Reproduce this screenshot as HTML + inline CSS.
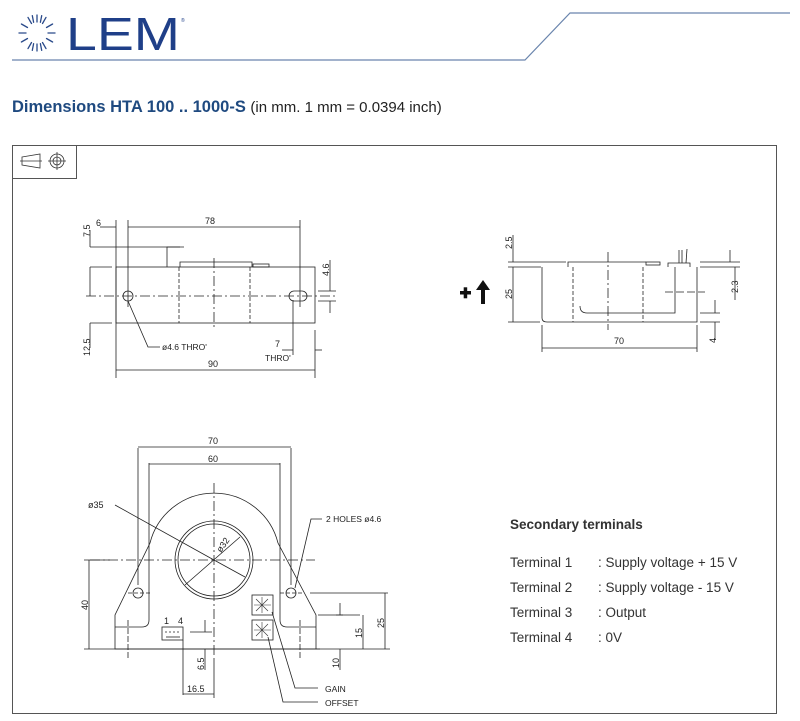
<!DOCTYPE html>
<html><head><meta charset="utf-8"><style>
html,body{margin:0;padding:0;background:#fff;}
body{width:800px;height:721px;overflow:hidden;position:relative;font-family:"Liberation Sans",sans-serif;}
svg{position:absolute;left:0;top:0;}
</style></head><body>
<svg width="800" height="721" viewBox="0 0 800 721" xmlns="http://www.w3.org/2000/svg">
<g stroke="#2a4a8a" stroke-width="1.3" stroke-linecap="round">
<line x1="37" y1="15" x2="37" y2="22"/><line x1="37" y1="44" x2="37" y2="51"/>
<line x1="19" y1="33" x2="26" y2="33"/><line x1="48" y1="33" x2="55" y2="33"/>
<line x1="28" y1="17.4" x2="31.5" y2="23.5"/><line x1="46" y1="17.4" x2="42.5" y2="23.5"/>
<line x1="28" y1="48.6" x2="31.5" y2="42.5"/><line x1="46" y1="48.6" x2="42.5" y2="42.5"/>
<line x1="21.4" y1="24" x2="27.5" y2="27.5"/><line x1="52.6" y1="24" x2="46.5" y2="27.5"/>
<line x1="21.4" y1="42" x2="27.5" y2="38.5"/><line x1="52.6" y1="42" x2="46.5" y2="38.5"/>
<line x1="32.3" y1="15.6" x2="33.6" y2="22.3"/><line x1="41.7" y1="15.6" x2="40.4" y2="22.3"/>
<line x1="32.3" y1="50.4" x2="33.6" y2="43.7"/><line x1="41.7" y1="50.4" x2="40.4" y2="43.7"/>
</g>
<text x="66" y="50" font-size="46" fill="#1f3f88" font-family="Liberation Sans" textLength="114" lengthAdjust="spacingAndGlyphs">LEM</text>
<text x="181" y="22" font-size="5" fill="#1f3f88">®</text>
<polyline points="12,60 525,60 570,13 790,13" fill="none" stroke="#6a85ad" stroke-width="1.2"/>
<text x="12" y="112" font-size="16.5" font-weight="bold" fill="#1f4a80">Dimensions HTA 100 .. 1000-S <tspan font-weight="normal" fill="#222" font-size="15">(in mm. 1 mm = 0.0394 inch)</tspan></text>
<rect x="12.5" y="145.5" width="764" height="568" fill="none" stroke="#555" stroke-width="1"/>
<rect x="12.5" y="145.5" width="64" height="33" fill="none" stroke="#555" stroke-width="1"/>
<g stroke="#333" fill="none" stroke-width="0.8">
<polygon points="22,157 40,154 40,168 22,165"/><line x1="20" y1="161" x2="42" y2="161"/>
<circle cx="57" cy="161" r="7"/><circle cx="57" cy="161" r="4"/><line x1="48" y1="161" x2="66" y2="161"/><line x1="57" y1="152" x2="57" y2="170"/>
</g>
<g fill="none" stroke="#222" stroke-width="0.8" font-family="Liberation Sans" font-size="9">
<rect x="116" y="267" width="199" height="56"/>
<polyline points="167,267 167,247 180,247"/>
<line x1="90" y1="247" x2="184" y2="247"/>
<polyline points="180,267 180,262 252,262 252,267"/>
<rect x="253" y="264" width="16" height="3"/>
<circle cx="128" cy="296" r="5"/>
<path d="M294 291 h8 a5 5 0 0 1 0 10 h-8 a5 5 0 0 1 0-10z"/>
<line x1="179" y1="267" x2="179" y2="323" stroke-dasharray="4,2"/>
<line x1="250" y1="267" x2="250" y2="323" stroke-dasharray="4,2"/>
<line x1="214" y1="258" x2="214" y2="330" stroke-dasharray="10,3,2,3"/>
<line x1="86" y1="296" x2="335" y2="296" stroke-dasharray="10,3,2,3"/>
<line x1="128" y1="220" x2="128" y2="307"/>
<line x1="116" y1="220" x2="116" y2="378"/>
<line x1="300" y1="220" x2="300" y2="307"/>
<line x1="315" y1="330" x2="315" y2="378"/>
<line x1="293" y1="300" x2="293" y2="355"/>
<line x1="128" y1="227" x2="300" y2="227"/>
<line x1="100" y1="227" x2="116" y2="227"/>
<line x1="90" y1="267" x2="112" y2="267"/><line x1="90" y1="323" x2="112" y2="323"/>
<line x1="90" y1="230" x2="90" y2="247"/><line x1="90" y1="267" x2="90" y2="296"/><line x1="90" y1="323" x2="90" y2="348"/>
<line x1="318" y1="291" x2="336" y2="291"/><line x1="318" y1="301" x2="336" y2="301"/>
<line x1="330" y1="260" x2="330" y2="291"/><line x1="330" y1="301" x2="330" y2="313"/>
<line x1="116" y1="370" x2="315" y2="370"/>
<line x1="282" y1="350" x2="293" y2="350"/><line x1="315" y1="350" x2="322" y2="350"/>
<polyline points="128,301 148,347 160,347"/>
</g>
<g font-family="Liberation Sans" font-size="9" fill="#222">
<text x="96" y="226">6</text><text x="205" y="224">78</text>
<text x="208" y="367">90</text><text x="275" y="347">7</text>
<text x="265" y="361" font-size="8.5">THRO'</text>
<text x="162" y="350" font-size="8.5">ø4.6  THRO'</text>
<text transform="translate(90,237) rotate(-90)">7.5</text>
<text transform="translate(90,356) rotate(-90)">12.5</text>
<text transform="translate(329,276) rotate(-90)">4.6</text>
</g>
<g fill="#111"><rect x="460" y="291" width="11" height="3.5"/><rect x="463.7" y="287.3" width="3.5" height="11"/>
<polygon points="483,280 490,290 485,290 485,304 481,304 481,290 476,290"/></g>
<g fill="none" stroke="#222" stroke-width="0.8" font-family="Liberation Sans" font-size="9">
<path d="M542 267 V318 Q542 322 547 322 H697 V267"/>
<line x1="508" y1="262" x2="566" y2="262"/><line x1="508" y1="267" x2="541" y2="267"/>
<polyline points="568,267 568,262 646,262"/>
<rect x="646" y="262" width="14" height="3"/>
<polyline points="668,267 668,263 690,263 690,267"/>
<line x1="679" y1="263" x2="679" y2="250"/><line x1="682" y1="263" x2="682" y2="250"/><line x1="686" y1="263" x2="687" y2="249"/>
<line x1="573" y1="267" x2="573" y2="322" stroke-dasharray="4,2"/>
<line x1="643" y1="267" x2="643" y2="322" stroke-dasharray="4,2"/>
<line x1="608" y1="252" x2="608" y2="330" stroke-dasharray="10,3,2,3"/>
<path d="M580 306 Q580 313 587 313 H675 V267"/>
<line x1="665" y1="292" x2="705" y2="292" stroke-dasharray="8,3"/>
<line x1="700" y1="262" x2="740" y2="262"/><line x1="700" y1="267" x2="740" y2="267"/>
<line x1="730" y1="250" x2="730" y2="262"/><line x1="735" y1="267" x2="735" y2="300"/>
<line x1="700" y1="313" x2="720" y2="313"/><line x1="700" y1="322" x2="720" y2="322"/>
<line x1="715" y1="300" x2="715" y2="313"/><line x1="715" y1="322" x2="715" y2="340"/>
<line x1="513" y1="235" x2="513" y2="262"/><line x1="513" y1="267" x2="513" y2="322"/>
<line x1="508" y1="322" x2="540" y2="322"/>
<line x1="542" y1="325" x2="542" y2="352"/><line x1="697" y1="325" x2="697" y2="352"/>
<line x1="542" y1="348" x2="697" y2="348"/>
</g>
<g font-family="Liberation Sans" font-size="9" fill="#222">
<text x="614" y="344">70</text>
<text transform="translate(512,249) rotate(-90)">2.5</text>
<text transform="translate(512,299) rotate(-90)">25</text>
<text transform="translate(738,293) rotate(-90)">2.3</text>
<text transform="translate(716,343) rotate(-90)">4</text>
</g>
<g fill="none" stroke="#222" stroke-width="0.8" font-family="Liberation Sans" font-size="9">
<path d="M115 649 V615 L150 543 A66 66 0 0 1 278 543 L316 615 V649 Z"/>
<path d="M149 463 V620 Q149 627 142 627 H115"/>
<path d="M280 463 V620 Q280 627 287 627 H316"/>
<circle cx="214" cy="560" r="39"/><circle cx="214" cy="560" r="36"/>
<circle cx="138" cy="593" r="5"/><circle cx="291" cy="593" r="5"/>
<line x1="214" y1="483" x2="214" y2="660" stroke-dasharray="10,3,2,3"/>
<line x1="90" y1="560" x2="315" y2="560" stroke-dasharray="10,3,2,3"/>
<line x1="128" y1="593" x2="150" y2="593" stroke-dasharray="4,2"/><line x1="280" y1="593" x2="302" y2="593" stroke-dasharray="4,2"/>
<line x1="138" y1="448" x2="138" y2="585"/><line x1="291" y1="448" x2="291" y2="585"/>
<line x1="128" y1="620" x2="128" y2="658" stroke-dasharray="6,2"/><line x1="300" y1="620" x2="300" y2="658" stroke-dasharray="6,2"/>
<line x1="138" y1="447" x2="291" y2="447"/>
<line x1="149" y1="464" x2="280" y2="464"/>
<line x1="115" y1="505" x2="214" y2="560"/><line x1="214" y1="560" x2="245" y2="577"/>
<line x1="185" y1="585" x2="240" y2="537"/>
<polyline points="322,519 311,519 295,588"/>
<line x1="84" y1="560" x2="110" y2="560"/><line x1="84" y1="649" x2="320" y2="649"/>
<line x1="89" y1="560" x2="89" y2="649"/>
<rect x="162" y="627" width="21" height="13"/>
<line x1="166" y1="637" x2="180" y2="637"/>
<line x1="165" y1="632" x2="181" y2="632" stroke-dasharray="2,2"/>
<line x1="183" y1="640" x2="183" y2="695"/>
<line x1="190" y1="632" x2="212" y2="632"/>
<line x1="205" y1="620" x2="205" y2="632"/><line x1="205" y1="649" x2="205" y2="670"/>
<line x1="183" y1="694" x2="214" y2="694"/><line x1="214" y1="660" x2="214" y2="698"/>
<rect x="252" y="595" width="21" height="20"/><rect x="252" y="620" width="21" height="20"/>
<polyline points="272,612 295,688 318,688"/>
<polyline points="268,637 283,702 318,702"/>
<line x1="310" y1="593" x2="388" y2="593"/><line x1="318" y1="615" x2="343" y2="615"/>
<line x1="336" y1="615" x2="360" y2="615"/>
<line x1="316" y1="649" x2="390" y2="649"/>
<line x1="385" y1="593" x2="385" y2="649"/>
<line x1="363" y1="615" x2="363" y2="649"/>
<line x1="340" y1="603" x2="340" y2="615"/><line x1="340" y1="649" x2="340" y2="670"/>
</g>
<g stroke="#333" stroke-width="0.6" fill="none">
<line x1="262" y1="597" x2="262" y2="613"/><line x1="254" y1="605" x2="271" y2="605"/><line x1="256" y1="599" x2="268" y2="611"/><line x1="268" y1="599" x2="256" y2="611"/>
<line x1="262" y1="622" x2="262" y2="638"/><line x1="254" y1="630" x2="271" y2="630"/><line x1="256" y1="624" x2="268" y2="636"/><line x1="268" y1="624" x2="256" y2="636"/>
</g>
<g font-family="Liberation Sans" font-size="9" fill="#222">
<text x="208" y="444">70</text><text x="208" y="462">60</text>
<text x="88" y="508">ø35</text>
<text x="326" y="522" font-size="8.5">2 HOLES ø4.6</text>
<text x="164" y="624">1</text><text x="178" y="624">4</text>
<text x="187" y="692">16.5</text>
<text x="325" y="692" font-size="8.5">GAIN</text>
<text x="325" y="706" font-size="8.5">OFFSET</text>
<text transform="translate(88,610) rotate(-90)">40</text>
<text transform="translate(204,670) rotate(-90)">6.5</text>
<text transform="translate(362,638) rotate(-90)">15</text>
<text transform="translate(384,628) rotate(-90)">25</text>
<text transform="translate(339,668) rotate(-90)">10</text>
<text transform="translate(221,553) rotate(-55)">ø32</text>
</g>
<g font-family="Liberation Sans" font-size="13.5" fill="#333">
<text x="510" y="529" font-weight="bold">Secondary terminals</text>
<text x="510" y="567">Terminal 1</text><text x="598" y="567">: Supply voltage + 15 V</text>
<text x="510" y="592">Terminal 2</text><text x="598" y="592">: Supply voltage  - 15 V</text>
<text x="510" y="617">Terminal 3</text><text x="598" y="617">: Output</text>
<text x="510" y="642">Terminal 4</text><text x="598" y="642">: 0V</text>
</g>
</svg>
</body></html>
